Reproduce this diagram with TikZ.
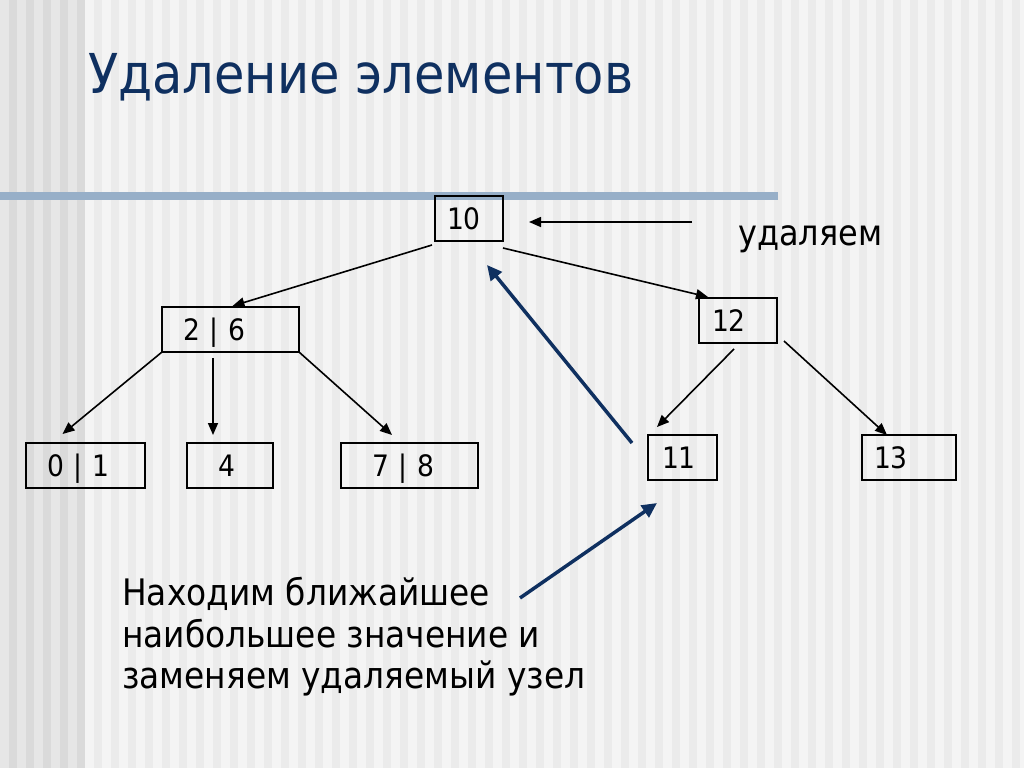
\documentclass[tikz,border=0pt]{standalone}
\usepackage{fontspec}
\setmainfont[FakeStretch=0.9]{DejaVu Sans}
\usetikzlibrary{arrows.meta}
\definecolor{navy}{HTML}{0F3060}
\definecolor{band}{HTML}{97AFC8}
\definecolor{bgA}{HTML}{F4F4F4}
\definecolor{bgB}{HTML}{EBEBEB}
\definecolor{lbA}{HTML}{E6E6E6}
\definecolor{lbB}{HTML}{DADADA}
\newcommand{\boxfont}{\fontsize{29.5}{32}\selectfont}
\newcommand{\bodyfont}{\fontsize{36.5}{42}\selectfont}
\tikzset{
  box/.style 2 args={draw=black, line width=1.7pt, rectangle, anchor=north west,
    minimum height=45pt, text width=#1, inner xsep=#2, inner ysep=0pt, outer sep=0pt,
    align=left, font=\boxfont, text height=21pt, text depth=0pt},
  link/.style={draw=black, line width=1.6pt, -{Triangle[length=12pt,width=10pt]}},
  bluearrow/.style={draw=navy, line width=3.5pt, -{Triangle[length=15pt,width=14pt]}},
  body/.style={anchor=base west, inner sep=0pt, font=\bodyfont, text=black}
}
\begin{document}
\begin{tikzpicture}[x=1pt,y=-1pt]
\useasboundingbox (0,0) rectangle (1024,768);
% background stripes
\fill[bgA] (0,0) rectangle (1024,768);
\foreach \i in {0,...,60} {\fill[bgB] (\i*17+8.5,0) rectangle ++(8.5,768);}
\fill[lbA] (0,0) rectangle (77,768);
\foreach \i in {0,...,4} {\fill[lbB] (\i*17+8.5,0) rectangle ++(8.5,768);}
% horizontal band
\fill[band] (0,192) rectangle (778,200);
% title
\node[anchor=base west, inner sep=0pt, font=\fontsize{55}{60}\selectfont, text=navy] (title) at (88,93) {Удаление элементов};
% tree nodes
\node[box={44pt}{12pt}] (n10) at (435,196) {10};
\node[box={95pt}{21pt}] (n26) at (162,307) {2 | 6};
\node[box={77pt}{21pt}] (n01) at (26,443) {0 | 1};
\node[box={24pt}{31pt}] (n4) at (187,443) {4};
\node[box={75pt}{31pt}] (n78) at (341,443) {7 | 8};
\node[box={52pt}{13pt}] (n12) at (699,298) {12};
\node[box={41pt}{14pt}] (n11) at (648,435) {11};
\node[box={70pt}{12pt}] (n13) at (862,435) {13};
% labels
\node[anchor=base west, inner sep=0pt, font=\fontsize{35.5}{40}\selectfont] (del) at (738,245) {удаляем};
\node[body] (body1) at (122,605) {Находим ближайшее};
\node[body] (body2) at (122,647) {наибольшее значение и};
\node[body] (body3) at (122,688) {заменяем удаляемый узел};
% black connectors
\draw[link] ([shift={(-3,4)}]n10.south west) -- ([shift={(2,-1)}]n26.north);
\draw[link] ([shift={(0,7)}]n10.south east) -- ([shift={(9,-1)}]n12.north west);
\draw[link] (n26.south west) -- ([shift={(-23,-9)}]n01.north);
\draw[link] ([shift={(-17.5,6)}]n26.south) -- ([shift={(-17,-8)}]n4.north);
\draw[link] (n26.south east) -- ([shift={(-17.5,-8)}]n78.north);
\draw[link] ([shift={(-4,6)}]n12.south) -- ([shift={(-25.5,-8)}]n11.north);
\draw[link] ([shift={(7,-2)}]n12.south east) -- ([shift={(-22,0)}]n13.north);
\coordinate (delfrom) at (692,222);
\draw[link] (delfrom) -- ([xshift=26pt]delfrom -| n10.east);
% blue arrows
\draw[bluearrow] ([shift={(-16,8)}]n11.north west) -- ([shift={(18,24)}]n10.south);
\coordinate (textfrom) at (520,598);
\draw[bluearrow] (textfrom) -- ([shift={(9,23)}]n11.south west);
\end{tikzpicture}
\end{document}
